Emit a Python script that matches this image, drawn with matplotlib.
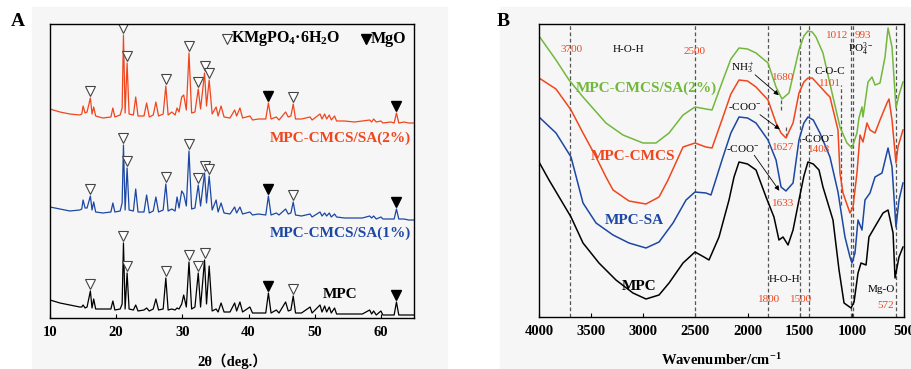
import numpy as np
import matplotlib
matplotlib.use("Agg")
import matplotlib.pyplot as plt
from matplotlib.patches import Rectangle

plt.rcParams['font.family'] = ['Liberation Serif', 'DejaVu Serif']
plt.rcParams['mathtext.fontset'] = 'custom'
plt.rcParams['mathtext.rm'] = 'Liberation Serif'
plt.rcParams['mathtext.it'] = 'Liberation Serif:italic'
plt.rcParams['mathtext.bf'] = 'Liberation Serif:bold'

RED = '#f0461e'
BLUE = '#1c47a3'
GREEN = '#72b83c'

# ---- XRD patterns (stacked, arbitrary units)
two_theta = [10.0, 11.5, 13.0, 14.5, 14.8, 15.0, 15.3, 15.6, 16.1, 16.35, 16.6, 16.9, 18.0, 19.2, 19.5,
             19.8, 20.6, 20.9, 21.1, 21.35, 21.65, 21.95, 22.6, 22.95, 23.3, 24.2, 24.6, 25.0, 25.6,
             26.0, 26.4, 27.1, 27.5, 27.85, 28.4, 28.9, 29.2, 29.5, 29.9, 30.2, 30.6, 31.0, 31.4,
             31.9, 32.4, 32.75, 33.35, 33.65, 34.05, 34.5, 35.1, 35.4, 35.85, 36.3, 37.2, 37.9, 38.2,
             38.7, 39.1, 40.2, 40.6, 41.5, 42.6, 43.0, 43.4, 44.2, 44.6, 45.6, 46.0, 46.4, 46.75,
             47.1, 48.0, 49.3, 49.6, 50.8, 51.1, 51.5, 51.8, 52.2, 52.5, 53.0, 53.3, 54.5, 56.0,
             57.2, 58.3, 58.6, 58.9, 59.3, 60.0, 60.3, 61.5, 62.0, 62.35, 62.7, 63.5, 64.2, 65.0]

xrd_sa2 = [209, 206, 204, 203, 204, 212, 205, 206, 220, 204, 211, 202, 200, 201, 210,
           201, 203, 210, 283, 205, 255, 204, 203, 221, 202, 202, 215, 201, 203,
           216, 202, 204, 232, 203, 206, 203, 210, 206, 221, 223, 208, 265, 205,
           206, 229, 209, 245, 212, 238, 204, 211, 202, 212, 201, 200, 208, 202,
           210, 200, 202, 198, 199, 199, 215, 199, 201, 198, 206, 201, 202, 214,
           199, 199, 201, 198, 204, 199, 204, 199, 203, 198, 202, 197, 197, 196,
           197, 198, 196, 199, 196, 197, 195, 196, 195, 205, 195, 196, 195, 195]

xrd_sa1 = [111, 109, 107, 108, 109, 118, 110, 110, 122, 108, 116, 106, 105, 106, 115,
           106, 107, 115, 173, 108, 150, 108, 107, 129, 106, 106, 123, 105, 107,
           121, 106, 108, 134, 107, 109, 107, 121, 110, 127, 124, 112, 167, 109,
           110, 133, 112, 145, 115, 142, 108, 118, 106, 115, 105, 104, 111, 105,
           111, 104, 106, 103, 104, 103, 122, 103, 105, 103, 109, 104, 105, 116,
           103, 102, 104, 101, 106, 102, 105, 102, 105, 101, 104, 101, 100, 100,
           100, 102, 100, 102, 99, 101, 99, 99, 99, 109, 99, 99, 98, 98]

xrd_mpc = [18, 15, 13, 11, 11, 13, 10, 11, 27, 10, 19, 9, 9, 9, 17,
           8, 9, 14, 75, 9, 45, 9, 8, 13, 7, 8, 10, 7, 9,
           19, 8, 9, 40, 8, 9, 8, 10, 9, 14, 23, 11, 56, 9,
           11, 45, 11, 58, 14, 52, 7, 9, 6, 15, 6, 6, 15, 7,
           16, 6, 11, 5, 5, 5, 25, 5, 8, 5, 16, 7, 8, 22,
           5, 5, 11, 5, 13, 6, 12, 6, 11, 5, 10, 4, 4, 4,
           4, 8, 4, 7, 3, 7, 3, 3, 3, 16, 3, 3, 3, 3]

kmp_sa2 = [16.1, 21.1, 21.65, 27.5, 31.0, 32.4, 33.35, 34.05, 46.75]
kmp_sa1 = [16.1, 21.1, 21.65, 27.5, 31.0, 32.4, 33.35, 34.05, 46.75]
kmp_mpc = [16.1, 21.1, 21.65, 27.5, 31.0, 32.4, 33.35, 46.75]
mgo_peaks = [43.0, 62.35]

# ---- FTIR spectra (stacked, arbitrary units)
wn_sa2 = [4000, 3837, 3712, 3578, 3358, 3195, 3003, 2878, 2753, 2619, 2504, 2399, 2341, 2236, 2160,
          2082, 2000, 1919, 1804, 1727, 1670, 1603, 1507, 1460, 1421, 1380, 1344, 1277, 1181, 1114,
          1047, 999, 951, 932, 903, 893, 845, 807, 778, 730, 682, 653, 615, 577, 548, 510]
ir_sa2 = [281, 257, 237, 220, 194, 182, 174, 174, 184, 202, 210, 208, 207, 237, 258,
          269, 268, 264, 254, 230, 218, 224, 267, 281, 286, 285, 280, 264, 220, 190,
          174, 169, 184, 199, 210, 200, 235, 240, 232, 234, 260, 289, 270, 209, 222, 235]

wn_cmcs = [4000, 3837, 3693, 3578, 3453, 3358, 3290, 3137, 2974, 2849, 2763, 2619, 2504, 2399, 2341,
           2236, 2160, 2082, 2000, 1919, 1804, 1727, 1679, 1632, 1564, 1507, 1460, 1421, 1380, 1344,
           1248, 1210, 1133, 1114, 1085, 1018, 989, 951, 922, 893, 855, 826, 778, 730, 663, 644,
           615, 577, 558, 510]
ir_cmcs = [239, 228, 207, 184, 160, 140, 127, 116, 113, 120, 137, 170, 174, 170, 169,
           200, 223, 237, 236, 230, 217, 194, 184, 179, 194, 224, 235, 239, 239, 235,
           224, 220, 187, 144, 124, 104, 110, 144, 182, 175, 194, 187, 184, 197, 214, 218,
           197, 154, 170, 187]

wn_sa = [4000, 3837, 3693, 3578, 3453, 3290, 3137, 2974, 2849, 2715, 2590, 2504, 2399, 2351, 2236,
         2160, 2082, 2000, 1919, 1804, 1727, 1679, 1632, 1564, 1507, 1460, 1421, 1370, 1306, 1210,
         1133, 1066, 1018, 999, 970, 941, 922, 903, 874, 826, 778, 711, 653, 615, 577, 548, 510]
ir_sa = [200, 184, 160, 114, 94, 82, 74, 69, 75, 94, 117, 125, 124, 122, 160,
         184, 200, 199, 194, 177, 157, 130, 126, 134, 177, 194, 200, 197, 184, 160,
         125, 80, 60, 54, 64, 97, 92, 87, 117, 124, 140, 144, 169, 150, 90, 117, 134]

wn_mpc = [4000, 3904, 3693, 3578, 3425, 3262, 3099, 2974, 2849, 2753, 2619, 2504, 2418, 2370, 2274,
          2178, 2130, 2082, 2000, 1919, 1823, 1747, 1699, 1660, 1612, 1564, 1507, 1460, 1421, 1370,
          1315, 1277, 1181, 1123, 1075, 1008, 979, 941, 912, 864, 836, 769, 701, 653, 605, 586,
          548, 510]
ir_mpc = [155, 137, 100, 74, 54, 37, 24, 18, 22, 34, 54, 65, 60, 57, 80,
          117, 140, 155, 153, 147, 120, 100, 77, 80, 72, 87, 117, 141, 155, 153,
          147, 130, 97, 47, 14, 9, 15, 44, 54, 52, 80, 92, 104, 107, 84, 39,
          60, 70]

full_dash = [3700, 2500, 1800, 1500, 1408, 1012, 993, 572]
short_dash = [(1101, 112, 232), (1680, 207, 218), (1627, 180, 191)]


fig = plt.figure(figsize=(9.12, 3.69), dpi=100)
fig.add_artist(Rectangle((32 / 912, 0), 415 / 912, 362 / 369, transform=fig.transFigure,
                         color='#f6f6f6', zorder=-10))
fig.add_artist(Rectangle((500 / 912, 0), 412 / 912, 362 / 369, transform=fig.transFigure,
                         color='#f6f6f6', zorder=-10))

axA = fig.add_axes([50 / 912, 51 / 369, 364 / 912, 294 / 369])
axB = fig.add_axes([539 / 912, 52 / 369, 365 / 912, 293 / 369])

# Panel A: XRD
for y, c, kmp in ((xrd_sa2, RED, kmp_sa2), (xrd_sa1, BLUE, kmp_sa1), (xrd_mpc, 'black', kmp_mpc)):
    axA.plot(two_theta, y, color=c, lw=0.9)
    lookup = dict(zip(two_theta, y))
    axA.plot(kmp, [lookup[p] + 7 for p in kmp], 'v', ms=6.5, mfc='white', mec='#444444',
             mew=0.8, ls='none')
    axA.plot(mgo_peaks, [lookup[p] + 7 for p in mgo_peaks], 'v', ms=6.5, color='black', ls='none')

axA.plot([36.7], [279], 'v', ms=6.5, mfc='white', mec='#444444', mew=0.8)
axA.text(37.4, 279, r'KMgPO$_\mathbf{4}$·6H$_\mathbf{2}$O', fontsize=11.5, fontweight='bold', va='center')
axA.plot([57.8], [279], 'v', ms=6.5, color='black')
axA.text(58.4, 279, 'MgO', fontsize=11.5, fontweight='bold', va='center')

axA.text(64.6, 180, 'MPC-CMCS/SA(2%)', color=RED, fontsize=11, fontweight='bold', ha='right', va='center')
axA.text(64.6, 85, 'MPC-CMCS/SA(1%)', color=BLUE, fontsize=11, fontweight='bold', ha='right', va='center')
axA.text(53.8, 24, 'MPC', color='black', fontsize=11, fontweight='bold', ha='center', va='center')

axA.set_xlim(10, 65)
axA.set_ylim(0, 294)
axA.set_xticks([10, 20, 30, 40, 50, 60])
axA.set_yticks([])
axA.set_xlabel('2θ（deg.）', fontsize=10.5, fontweight='bold', labelpad=10,
               family=['Liberation Serif', 'Noto Sans CJK SC'])

# Panel B: FTIR
for x in full_dash:
    axB.axvline(x, color='#555555', lw=0.9, ls=(0, (3, 2)))
for x, y0, y1 in short_dash:
    axB.plot([x, x], [y0, y1], color='#555555', lw=0.9, ls=(0, (3, 2)))

for wn, ir, c in ((wn_sa2, ir_sa2, GREEN), (wn_cmcs, ir_cmcs, RED), (wn_sa, ir_sa, BLUE), (wn_mpc, ir_mpc, 'black')):
    axB.plot(wn, ir, color=c, lw=1.1)

axB.text(2974, 229, 'MPC-CMCS/SA(2%)', color=GREEN, fontsize=11, fontweight='bold', ha='center', va='center')
axB.text(3099, 161, 'MPC-CMCS', color=RED, fontsize=11, fontweight='bold', ha='center', va='center')
axB.text(3090, 96, 'MPC-SA', color=BLUE, fontsize=11, fontweight='bold', ha='center', va='center')
axB.text(3041, 30, 'MPC', color='black', fontsize=11, fontweight='bold', ha='center', va='center')

red_notes = [(3690, 267, '3700'), (2504, 266, '2500'), (1663, 239, '1680'), (1210, 234, '1101'),
             (1146, 281, '1012'), (893, 281, '993'), (1660, 169, '1627'), (1315, 167, '1408'),
             (1663, 114, '1633'), (1795, 18, '1800'), (1488, 18, '1500'), (673, 11, '572')]
for x, y, s in red_notes:
    axB.text(x, y, s, color=RED, fontsize=8, ha='center', va='center')

black_notes = [(3137, 267, 'H-O-H'), (2047, 249, r'NH$_3^+$'), (1210, 246, 'C-O-C'),
               (915, 268, r'PO$_4^{3-}$'), (2025, 210, r'-COO$^{-}$'), (1325, 178, r'-COO$^{-}$'),
               (2044, 168, r'-COO$^{-}$'), (1650, 38, 'H-O-H'), (721, 27, 'Mg-O')]
for x, y, s in black_notes:
    axB.text(x, y, s, color='black', fontsize=8, ha='center', va='center')

arrows = [((1948, 244), (1680, 220)), ((1903, 204), (1670, 186)), ((1951, 164), (1680, 124))]
for start, end in arrows:
    axB.annotate('', xy=end, xytext=start,
                 arrowprops=dict(arrowstyle='-|>', color='black', lw=0.6, mutation_scale=7))

axB.set_xlim(4000, 500)
axB.set_ylim(0, 293)
axB.set_xticks(range(4000, 499, -500))
axB.set_yticks([])
axB.set_xlabel('Wavenumber/cm$^{\\mathbf{-1}}$', fontsize=10.5, fontweight='bold', labelpad=10)

for ax in (axA, axB):
    ax.set_facecolor('none')
    ax.tick_params(axis='x', direction='in', length=3, labelsize=10.5, pad=6)
    for lab in ax.get_xticklabels():
        lab.set_fontweight('bold')
    for sp in ax.spines.values():
        sp.set_linewidth(1.0)

fig.text(18 / 912, 1 - 22 / 369, 'A', fontsize=14, fontweight='bold', ha='center', va='center')
fig.text(503 / 912, 1 - 22 / 369, 'B', fontsize=14, fontweight='bold', ha='center', va='center')

fig.savefig('out.png', dpi=100)
